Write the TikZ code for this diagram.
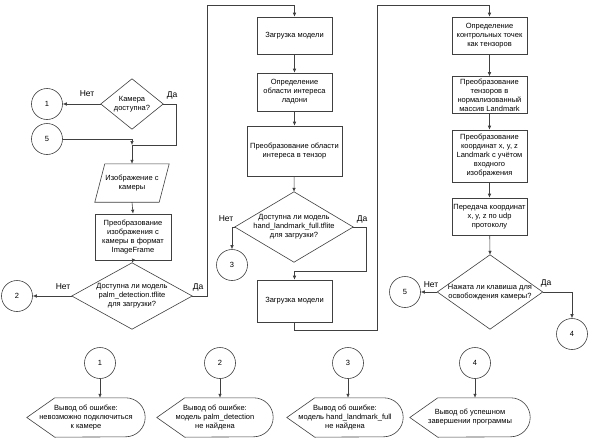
\documentclass[tikz,border=0pt]{standalone}
\usepackage{fontspec}
\setmainfont{Liberation Sans}
\usetikzlibrary{arrows.meta}
\newcommand\mytxt{\fontsize{7.5}{9}\selectfont}
\newcommand\dispshape[1]{\draw[line] (#1.west) -- ([xshift=28pt]#1.north west) -- ([xshift=-19.5pt]#1.north east) arc[start angle=90,end angle=-90,radius=19.5pt] -- ([xshift=28pt]#1.south west) -- cycle;}
\newcommand\diashape[1]{\draw[line] (#1.north) -- (#1.east) -- (#1.south) -- (#1.west) -- cycle;}
\tikzset{
  line/.style={draw=black!75, line width=0.6pt},
  arr/.style={line, -{Latex[length=4pt,width=3.5pt]}},
  proc/.style={draw=black!75, line width=0.6pt, rectangle, inner sep=1pt, align=center, font=\mytxt},
  conn/.style={draw=black!75, line width=0.6pt, circle, minimum size=31pt, inner sep=0pt, font=\mytxt},
  dtext/.style={inner sep=0pt, align=center, font=\mytxt},
  lbl/.style={inner sep=0pt, font=\fontsize{8.5}{10}\selectfont},
}
\begin{document}
\begin{tikzpicture}[x=1pt,y=-1pt]
\useasboundingbox[fill=white] (0,0) rectangle (589,439);
% ---------- column 1
\node[conn] (c1a) at (47,104) {1};
\node[dtext, minimum width=62pt, minimum height=50pt] (dcam) at (132,104) {Камера\\доступна?};
\diashape{dcam}
\node[conn] (c5a) at (47,139) {5};
\coordinate (j1) at (132,145);
\node[dtext, minimum width=74pt, minimum height=38pt] (par) at (132,183) {Изображение с\\камеры};
\draw[line] ([xshift=10pt]par.north west) -- (par.north east) -- ([xshift=-10pt]par.south east) -- (par.south west) -- cycle;
\node[proc, minimum width=76pt, minimum height=46pt] (r1) at (133,237) {Преобразование\\изображения с\\камеры в формат\\ImageFrame};
\node[dtext, minimum width=120pt, minimum height=66pt] (d2) at (132,296) {Доступна ли модель\\palm\_detection.tflite\\для загрузки?};
\diashape{d2}
\node[conn] (c2a) at (17,296) {2};
% ---------- column 2
\node[proc, minimum width=75pt, minimum height=37pt] (r2) at (294.5,35.5) {Загрузка модели};
\node[proc, minimum width=75pt, minimum height=38pt] (r3) at (294.5,92) {Определение\\области интереса\\ладони};
\node[proc, minimum width=95pt, minimum height=50pt] (r4) at (294.5,151) {Преобразование области\\интереса в тензор};
\node[dtext, minimum width=118pt, minimum height=70pt] (d3) at (294,227) {Доступна ли модель\\hand\_landmark\_full.tflite\\для загрузки?};
\diashape{d3}
\node[conn] (c3a) at (232,265) {3};
\node[proc, minimum width=75pt, minimum height=42pt] (r5) at (294.5,301) {Загрузка модели};
% ---------- column 3
\node[proc, minimum width=75pt, minimum height=37pt] (r6) at (489.5,35.5) {Определение\\контрольных точек\\как тензоров};
\node[proc, minimum width=75pt, minimum height=37pt] (r7) at (489.5,95) {Преобразование\\тензоров в\\нормализованный\\массив Landmark};
\node[proc, minimum width=75pt, minimum height=52pt] (r8) at (489.5,156) {Преобразование\\координат x, y, z\\Landmark с учётом\\входного\\изображения};
\node[proc, minimum width=75pt, minimum height=37pt] (r9) at (489.5,216.5) {Передача координат\\x, y, z по udp\\протоколу};
\node[dtext, minimum width=105pt, minimum height=74pt] (d4) at (490,292) {Нажата ли клавиша для\\освобождения камеры?};
\diashape{d4}
\node[conn] (c5b) at (405,292) {5};
\node[conn] (c4a) at (572,334) {4};
% ---------- bottom row
\node[conn] (cb1) at (100,363) {1};
\node[conn] (cb2) at (220,363) {2};
\node[conn] (cb3) at (348,363) {3};
\node[conn] (cb4) at (475,363) {4};
\node[dtext, minimum width=118pt, minimum height=39pt] (t1) at (86,417.5) {Вывод об ошибке:\\невозможно подключиться\\к камере};
\node[dtext, minimum width=116pt, minimum height=39pt] (t2) at (215,417.5) {Вывод об ошибке:\\модель palm\_detection\\не найдена};
\node[dtext, minimum width=116pt, minimum height=39pt] (t3) at (345,417.5) {Вывод об ошибке:\\модель hand\_landmark\_full\\не найдена};
\node[dtext, minimum width=120pt, minimum height=39pt] (t4) at (470,417.5) {Вывод об успешном\\завершении программы};
\dispshape{t1}
\dispshape{t2}
\dispshape{t3}
\dispshape{t4}
% ---------- bend coordinates
\coordinate (b1) at (176,145);
\coordinate (b2) at (207,5);
\coordinate (b3) at (294.5,5);
\coordinate (b4) at (366,271);
\coordinate (b5) at (294.5,271);
\coordinate (b6) at (377,330);
\coordinate (b7) at (377,5);
\coordinate (b8) at (489.5,5);
% ---------- connectors
\draw[arr] (dcam.west) -- (c1a.east);
\node[lbl] at (87,94) {Нет};
\draw[line] (dcam.east) -| (b1) -- (j1);
\node[lbl] at (172,95) {Да};
\draw[arr] (c5a.east) -| (j1);
\draw[arr] (j1) -- (par.north);
\draw[arr] (par.south) -- (r1.north);
\draw[arr] (r1.south) -- (d2.north);
\draw[arr] (d2.west) -- (c2a.east);
\node[lbl] at (63,287) {Нет};
\draw[arr] (d2.east) -| (b2) -- (b3) -- (r2.north);
\node[lbl] at (198,287) {Да};
\draw[arr] (r2) -- (r3);
\draw[arr] (r3) -- (r4);
\draw[arr] (r4) -- (d3.north);
\draw[arr] (d3.west) -| (c3a.north);
\node[lbl] at (226,219) {Нет};
\draw[arr] (d3.east) -| (b4) -- (b5) -- (r5.north);
\node[lbl] at (362,219) {Да};
\draw[arr] (r5.south) |- (b6) -- (b7) -- (b8) -- (r6.north);
\draw[arr] (r6) -- (r7);
\draw[arr] (r7) -- (r8);
\draw[arr] (r8) -- (r9);
\draw[arr] (r9) -- (d4.north);
\draw[arr] (d4.west) -- (c5b.east);
\node[lbl] at (431,285) {Нет};
\draw[arr] (d4.east) -| (c4a.north);
\node[lbl] at (546,283) {Да};
\draw[arr] (cb1.south) -- (cb1.south |- t1.north);
\draw[arr] (cb2.south) -- (cb2.south |- t2.north);
\draw[arr] (cb3.south) -- (cb3.south |- t3.north);
\draw[arr] (cb4.south) -- (cb4.south |- t4.north);
\end{tikzpicture}
\end{document}
